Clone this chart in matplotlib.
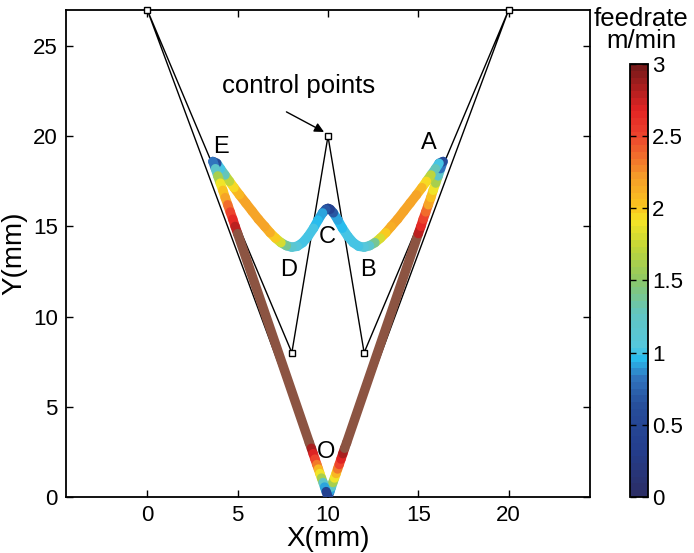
import matplotlib
matplotlib.use("Agg")
import matplotlib.pyplot as plt
import numpy as np
from matplotlib.collections import LineCollection
from matplotlib.colors import LinearSegmentedColormap, ListedColormap, Normalize
from matplotlib.ticker import FormatStrFormatter

plt.rcParams['font.family'] = ['Liberation Sans', 'DejaVu Sans']

# control polygon (closed through O)
ctrl_x = [10, 0, 8, 10, 12, 20, 10]
ctrl_y = [0, 27, 8, 20, 8, 27, 0]

# tool path O -> A -> B -> C -> D -> E -> O, with feedrate (m/min)
# values above 3 are out of the colour range (drawn brown)
path_x = [10.00, 10.10, 10.19, 10.27, 10.36, 10.45, 10.53, 10.62, 10.72, 10.82, 10.92, 11.03,
          15.00, 15.14, 15.27, 15.41, 15.55, 15.69, 15.82, 15.96, 16.10, 16.23, 16.37,
          16.15, 15.95, 15.70, 15.45, 15.20, 14.90, 14.55, 14.20, 13.85, 13.50, 13.20, 12.90,
          12.60, 12.30, 12.00, 11.70, 11.40, 11.10, 10.80, 10.55, 10.30, 10.12, 10.00,
          9.88, 9.70, 9.45, 9.20, 8.90, 8.60, 8.30, 8.00, 7.70, 7.40, 7.10, 6.80,
          6.50, 6.15, 5.80, 5.45, 5.10, 4.80, 4.55, 4.30, 4.05, 3.85, 3.63,
          3.77, 3.90, 4.04, 4.18, 4.31, 4.45, 4.59, 4.73, 4.86, 5.00,
          8.97, 9.08, 9.18, 9.28, 9.38, 9.47, 9.55, 9.64, 9.73, 9.81, 9.90, 10.00]
path_y = [0.00, 0.30, 0.55, 0.80, 1.05, 1.30, 1.55, 1.80, 2.10, 2.40, 2.70, 3.00,
          14.60, 15.00, 15.40, 15.80, 16.20, 16.60, 17.00, 17.40, 17.80, 18.20, 18.60,
          18.50, 18.20, 17.85, 17.50, 17.15, 16.75, 16.30, 15.85, 15.40, 15.00, 14.65, 14.35,
          14.10, 13.93, 13.85, 13.90, 14.10, 14.45, 14.90, 15.35, 15.75, 15.95, 16.00,
          15.95, 15.75, 15.35, 14.90, 14.45, 14.10, 13.90, 13.85, 13.93, 14.10, 14.35, 14.65,
          15.00, 15.40, 15.85, 16.30, 16.75, 17.15, 17.50, 17.85, 18.20, 18.50, 18.60,
          18.20, 17.80, 17.40, 17.00, 16.60, 16.20, 15.80, 15.40, 15.00, 14.60,
          3.00, 2.70, 2.40, 2.10, 1.80, 1.55, 1.30, 1.05, 0.80, 0.55, 0.30, 0.00]
feedrate = [0.05, 0.40, 0.90, 1.20, 1.60, 1.90, 2.10, 2.30, 2.50, 2.70, 2.85, 3.30,
            2.80, 2.65, 2.50, 2.35, 2.20, 2.05, 1.90, 1.60, 1.20, 0.80, 0.10,
            0.60, 1.00, 1.30, 1.70, 1.95, 2.10, 2.20, 2.20, 2.20, 2.15, 2.00, 1.80,
            1.40, 1.15, 1.05, 1.00, 1.00, 1.00, 0.95, 0.90, 0.70, 0.40, 0.20,
            0.40, 0.70, 0.90, 0.95, 1.00, 1.00, 1.00, 1.05, 1.15, 1.40, 1.80, 2.00,
            2.15, 2.20, 2.20, 2.20, 2.10, 1.95, 1.70, 1.30, 1.00, 0.60, 0.10,
            0.80, 1.20, 1.60, 1.90, 2.05, 2.20, 2.35, 2.50, 2.65, 2.80,
            3.30, 2.85, 2.70, 2.50, 2.30, 2.10, 1.90, 1.60, 1.20, 0.90, 0.40, 0.05]

point_labels = ['O', 'A', 'B', 'C', 'D', 'E']
label_x = [9.9, 15.6, 12.2, 9.95, 7.8, 4.1]
label_y = [2.5, 19.6, 12.6, 14.4, 12.6, 19.4]

# colour map as in the colour bar (64 steps)
anchors = [(0.00, (0.17, 0.18, 0.40)), (0.10, (0.14, 0.24, 0.55)),
           (0.20, (0.15, 0.30, 0.60)), (0.27, (0.19, 0.45, 0.74)),
           (0.32, (0.16, 0.75, 0.94)), (0.34, (0.33, 0.78, 0.87)),
           (0.42, (0.38, 0.77, 0.76)), (0.50, (0.55, 0.78, 0.40)),
           (0.58, (0.76, 0.84, 0.22)), (0.64, (0.96, 0.90, 0.15)),
           (0.67, (0.98, 0.78, 0.12)), (0.74, (0.96, 0.62, 0.16)),
           (0.84, (0.93, 0.27, 0.18)), (0.90, (0.89, 0.14, 0.14)),
           (1.00, (0.47, 0.10, 0.10))]
base = LinearSegmentedColormap.from_list('feed', anchors)
cmap = ListedColormap(base(np.linspace(0, 1, 64)))
cmap.set_over((0.55, 0.33, 0.26))
norm = Normalize(vmin=0, vmax=3)

fig = plt.figure(figsize=(6.94, 5.53), dpi=100)
ax = fig.add_axes([0.0951, 0.1013, 0.7550, 0.8807])
cax = fig.add_axes([0.9085, 0.1013, 0.0250, 0.7830])

# control polygon
ax.plot(ctrl_x, ctrl_y, color='black', lw=1.0, zorder=2, clip_on=False)
ax.plot(ctrl_x[1:6], ctrl_y[1:6], 's', ms=4.5, mfc='white', mec='black', mew=1.0,
        zorder=5, clip_on=False)

# tool path coloured by feedrate (each piece takes the larger end value)
pts = np.column_stack([path_x, path_y])
segs = np.stack([pts[:-1], pts[1:]], axis=1)
f = np.array(feedrate)
lc = LineCollection(segs, cmap=cmap, norm=norm, linewidths=6.8, capstyle='round',
                    zorder=3)
lc.set_array(np.maximum(f[:-1], f[1:]))
ax.add_collection(lc)

for t, x, y in zip(point_labels, label_x, label_y):
    ax.text(x, y, t, fontsize=17, ha='center', va='center', zorder=6)

ax.text(8.35, 22.8, 'control points', fontsize=18.5, ha='center', va='center')
ax.annotate('', xy=(9.85, 20.2), xytext=(7.7, 21.35),
            arrowprops=dict(arrowstyle='-|>', color='black', lw=1.0,
                            shrinkA=0, shrinkB=1, mutation_scale=14))

ax.set_xlim(-4.5, 24.5)
ax.set_ylim(0, 27)
ax.set_xticks([0, 5, 10, 15, 20])
ax.set_yticks([0, 5, 10, 15, 20, 25])
ax.tick_params(direction='in', top=True, right=True, length=5, width=1.0,
               labelsize=16, pad=6)
for s in ax.spines.values():
    s.set_linewidth(1.3)
ax.set_xlabel('X(mm)', fontsize=20, labelpad=0)
ax.set_ylabel('Y(mm)', fontsize=20, labelpad=4)

sm = plt.cm.ScalarMappable(norm=norm, cmap=cmap)
cb = fig.colorbar(sm, cax=cax, ticks=[0, 0.5, 1, 1.5, 2, 2.5, 3])
cb.ax.yaxis.set_major_formatter(FormatStrFormatter('%g'))
cb.ax.tick_params(direction='in', left=True, right=True, length=4, width=1.0,
                  labelsize=16, pad=3)
cb.outline.set_linewidth(1.3)
fig.text(0.924, 0.988, 'feedrate\nm/min', fontsize=18.5, ha='center', va='top',
         linespacing=0.9)

fig.savefig('out.png', dpi=100)
